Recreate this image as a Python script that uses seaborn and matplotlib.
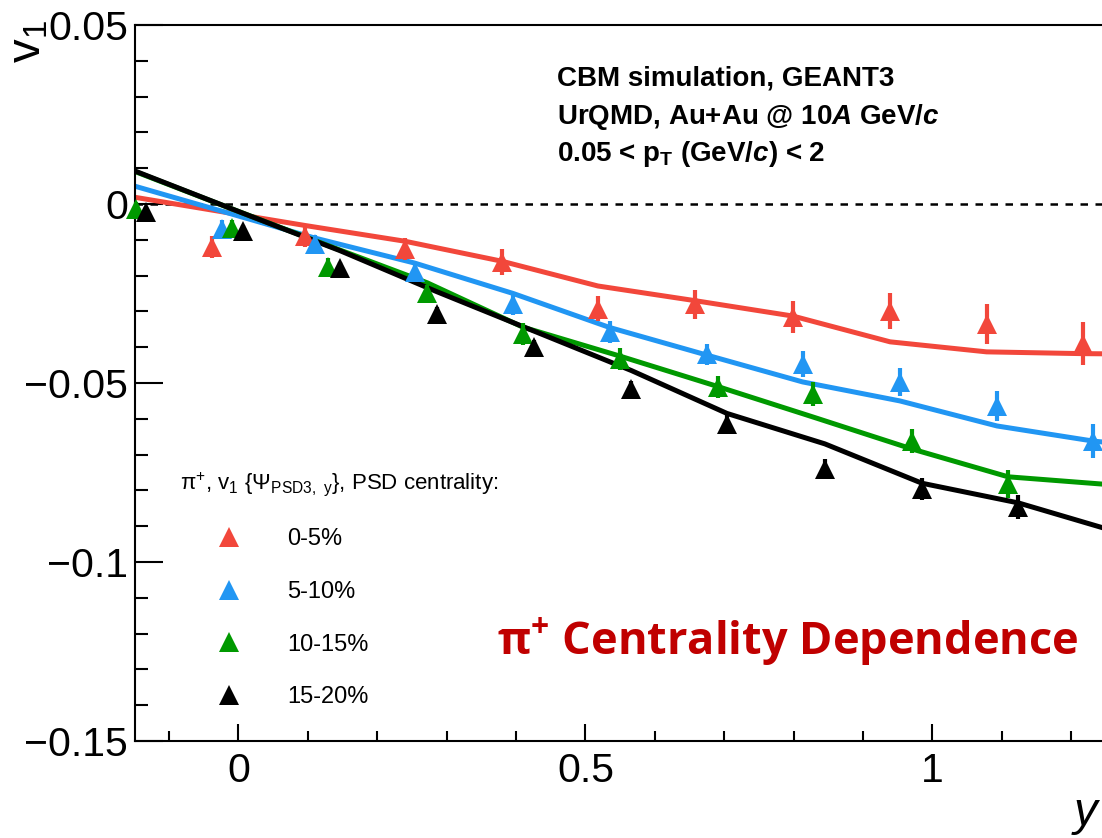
import numpy as np
import pandas as pd
import seaborn as sns
import matplotlib.pyplot as plt
from matplotlib.lines import Line2D
from matplotlib.ticker import MultipleLocator

# centrality classes and colours
centralities = ["0-5%", "5-10%", "10-15%", "15-20%"]
colors = ["#F2473B", "#2196F3", "#009900", "#000000"]

# measured points (rapidity, v1, error)
red_x = [-0.038, 0.096, 0.240, 0.380, 0.518, 0.658, 0.799, 0.939, 1.078, 1.217]
red_v1 = [-0.0120, -0.0090, -0.0126, -0.0162, -0.0293, -0.0280, -0.0316, -0.0300, -0.0335, -0.0390]
red_err = [0.0030, 0.0030, 0.0030, 0.0035, 0.0035, 0.0040, 0.0045, 0.0050, 0.0055, 0.0060]

blue_x = [-0.024, 0.110, 0.254, 0.396, 0.535, 0.675, 0.813, 0.953, 1.093, 1.231]
blue_v1 = [-0.0070, -0.0112, -0.0190, -0.0280, -0.0358, -0.0420, -0.0447, -0.0497, -0.0564, -0.0662]
blue_err = [0.0025, 0.0025, 0.0025, 0.0030, 0.0030, 0.0030, 0.0035, 0.0040, 0.0042, 0.0047]

green_x = [-0.148, -0.009, 0.129, 0.272, 0.410, 0.550, 0.691, 0.828, 0.970, 1.109]
green_v1 = [-0.0014, -0.0066, -0.0176, -0.0250, -0.0363, -0.0433, -0.0511, -0.0530, -0.0662, -0.0782]
green_err = [0.0020, 0.0020, 0.0025, 0.0025, 0.0030, 0.0030, 0.0030, 0.0034, 0.0034, 0.0038]

black_x = [-0.133, 0.007, 0.146, 0.286, 0.426, 0.566, 0.704, 0.845, 0.985, 1.124]
black_v1 = [-0.0022, -0.0075, -0.0180, -0.0307, -0.0400, -0.0517, -0.0615, -0.0740, -0.0796, -0.0846]
black_err = [0.0015, 0.0015, 0.0018, 0.0020, 0.0020, 0.0022, 0.0025, 0.0028, 0.0030, 0.0033]

# model curves
red_model_x = [-0.178, -0.038, 0.096, 0.240, 0.380, 0.518, 0.658, 0.799, 0.939, 1.078, 1.217, 1.357]
red_model_v1 = [0.0028, -0.0017, -0.0060, -0.0104, -0.0160, -0.0229, -0.0270, -0.0313, -0.0385, -0.0413, -0.0418, -0.0420]

blue_model_x = [-0.164, -0.024, 0.110, 0.254, 0.396, 0.535, 0.675, 0.813, 0.953, 1.093, 1.231, 1.371]
blue_model_v1 = [0.0058, -0.0020, -0.0095, -0.0165, -0.0250, -0.0345, -0.0422, -0.0497, -0.0550, -0.0620, -0.0662, -0.0690]

green_model_x = [-0.288, -0.148, -0.009, 0.129, 0.272, 0.410, 0.550, 0.691, 0.828, 0.970, 1.109, 1.249]
green_model_v1 = [0.0190, 0.0090, -0.0014, -0.0116, -0.0220, -0.0344, -0.0425, -0.0510, -0.0595, -0.0684, -0.0762, -0.0783]

black_model_x = [-0.273, -0.133, 0.007, 0.146, 0.286, 0.426, 0.566, 0.704, 0.845, 0.985, 1.124, 1.264]
black_model_v1 = [0.0186, 0.0080, -0.0026, -0.0130, -0.0245, -0.0355, -0.0465, -0.0585, -0.0670, -0.0780, -0.0835, -0.0915]

x_ticks = [0, 0.5, 1]
x_tick_labels = ["0", "0.5", "1"]
y_ticks = [0.05, 0, -0.05, -0.1, -0.15]
y_tick_labels = ["0.05", "0", "\u22120.05", "\u22120.1", "\u22120.15"]

sns.set_theme(style="ticks")
plt.rcParams["font.family"] = ["Liberation Sans", "DejaVu Sans"]
plt.rcParams["text.color"] = "black"
plt.rcParams["mathtext.fontset"] = "custom"
plt.rcParams["mathtext.it"] = "Liberation Sans:italic:bold"
plt.rcParams["mathtext.default"] = "regular"

W, H = 1102, 838
fig = plt.figure(figsize=(W / 100, H / 100), dpi=100)
xlim = (-0.149, 1.30)
ax_left, ax_right_px = 135, 135 + (xlim[1] - xlim[0]) * 694
ax = fig.add_axes([ax_left / W, (H - 741) / H, (ax_right_px - ax_left) / W, 716 / H])

models = pd.DataFrame({
    "y": red_model_x + blue_model_x + green_model_x + black_model_x,
    "v1": red_model_v1 + blue_model_v1 + green_model_v1 + black_model_v1,
    "cent": sum([[c] * 12 for c in centralities], []),
})
sns.lineplot(data=models, x="y", y="v1", hue="cent", palette=dict(zip(centralities, colors)),
             estimator=None, sort=False, lw=3.6, legend=False, ax=ax, zorder=2)

points = [(red_x, red_v1, red_err), (blue_x, blue_v1, blue_err),
          (green_x, green_v1, green_err), (black_x, black_v1, black_err)]
for (px, pv, pe), col in zip(points, colors):
    ax.errorbar(px, pv, yerr=pe, fmt="^", color=col, ms=15, mew=0,
                elinewidth=3, capsize=2, capthick=3, clip_on=False, zorder=3)

ax.axhline(0, color="black", lw=1.8, ls=(0, (3, 3)), zorder=1)

ax.set_xlim(*xlim)
ax.set_ylim(-0.15, 0.05)
ax.set_xticks(x_ticks, x_tick_labels)
ax.set_yticks(y_ticks, y_tick_labels)
ax.xaxis.set_minor_locator(MultipleLocator(0.1))
ax.yaxis.set_minor_locator(MultipleLocator(0.01))
ax.tick_params(axis="both", which="both", direction="in", width=1.5, color="black",
               labelsize=29.5, labelcolor="black")
ax.tick_params(axis="y", which="major", length=20, pad=5)
ax.tick_params(axis="y", which="minor", length=9.5)
ax.tick_params(axis="x", which="major", length=12, pad=8)
ax.tick_params(axis="x", which="minor", length=7)
ax.set_xlabel("")
ax.set_ylabel("")
for s in ["left", "bottom", "top"]:
    ax.spines[s].set_linewidth(1.5)
    ax.spines[s].set_color("black")
ax.spines["right"].set_visible(False)

# axis titles
fig.text(28 / W, 1 - 20 / H, "v$_{1}$", rotation=90, ha="center", va="top", fontsize=34)
fig.text(1085 / W, 1 - 825 / H, "y", style="italic", ha="center", va="baseline", fontsize=34)

# info text
info = ["CBM simulation, GEANT3",
        r"UrQMD, Au+Au @ 10$\mathit{A}$ GeV/$\mathit{c}$",
        r"0.05 < p$_{T}$ (GeV/$\mathit{c}$) < 2"]
for line, base in zip(info, [85, 124, 161]):
    fig.text(557 / W, 1 - base / H, line, fontsize=20, fontweight="bold", va="baseline", ha="left")

# legend
handles = [Line2D([], [], ls="none", marker="^", ms=15, mew=0, color=c) for c in colors]
leg = ax.legend(handles, centralities, title=r"$\pi^{+}$, v$_{1}$ {$\Psi_{PSD3,\ y}$}, PSD centrality:",
                loc="upper left", bbox_to_anchor=(180 / W, 1 - 470 / H), bbox_transform=fig.transFigure,
                frameon=False, fontsize=17, title_fontsize=16, borderpad=0, borderaxespad=0,
                handlelength=4.15, handletextpad=0.4, labelspacing=1.3, alignment="left")

fig.text(497 / W, 1 - 655 / H, r"$\pi^{+}$ Centrality Dependence", color="#C00000",
         fontsize=32.5, fontweight="bold", family=["Open Sans", "DejaVu Sans"], va="baseline", ha="left")

fig.savefig("out.png", dpi=100)
